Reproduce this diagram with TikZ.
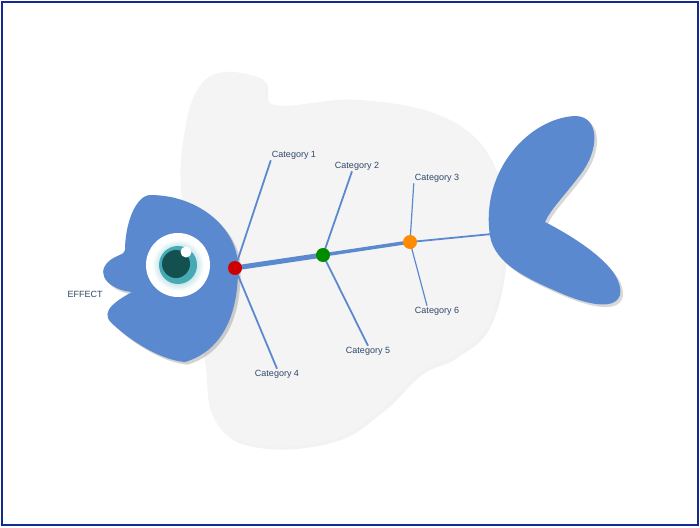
\documentclass[tikz,border=0pt]{standalone}
\usepackage{fontspec}
\setmainfont{Liberation Sans}
\usetikzlibrary{shadows}
\definecolor{fishblue}{RGB}{91,137,207}
\definecolor{bodygray}{RGB}{244,244,244}
\definecolor{labelblue}{RGB}{47,72,105}
\definecolor{framebox}{RGB}{20,40,150}
\definecolor{eyeteal}{RGB}{70,170,180}
\definecolor{eyedark}{RGB}{20,80,80}
\tikzset{
  catlabel/.style={font=\fontsize{9}{10}\selectfont, text=labelblue, inner sep=1pt},
  bone/.style={draw=fishblue, line width=1.8pt},
  joint/.style={circle, inner sep=0pt, minimum size=10pt}
}
\begin{document}
\begin{tikzpicture}[x=1pt, y=-1pt]
    \useasboundingbox (0,0) rectangle (700,527);
    \fill[white] (0,0) rectangle (700,527);
    \draw[framebox, line width=1.5pt] (2,2) rectangle (698,525);

    % body
    \fill[bodygray, drop shadow={opacity=0.1}] plot[smooth cycle, tension=0.7] coordinates {
      (205,80) (260,78) (275,105) (360,100) (450,120) (495,170) (505,240)
      (490,320) (455,355) (420,372) (380,410) (330,440) (255,445) (215,420)
      (205,360) (195,300) (185,230) (182,150)};

    % tail
    \fill[fishblue, drop shadow={opacity=0.3}] (490,236)
      .. controls (480,170) and (530,118) .. (575,116)
      .. controls (600,116) and (600,150) .. (580,175)
      .. controls (565,195) and (550,210) .. (545,222)
      .. controls (580,240) and (625,270) .. (620,295)
      .. controls (615,310) and (590,305) .. (565,295)
      .. controls (530,280) and (495,265) .. (490,236) -- cycle;

    % head
    \fill[fishblue, drop shadow={opacity=0.35}] (150,195)
      .. controls (200,195) and (240,230) .. (238,270)
      .. controls (238,310) and (225,350) .. (185,362)
      .. controls (160,360) and (130,340) .. (115,326)
      .. controls (100,315) and (108,305) .. (132,292)
      .. controls (110,290) and (95,275) .. (108,262)
      .. controls (115,255) and (125,255) .. (125,250)
      .. controls (125,225) and (135,196) .. (150,195) -- cycle;

    % eye
    \fill[white] (178,265) circle (32);
    \shade[inner color=eyeteal, outer color=white] (178,265) circle (26);
    \fill[eyeteal] (178,265) circle (19);
    \fill[eyedark] (176,264) circle (14);
    \fill[white] (186,252) circle (5.5);

    % joints
    \node[joint] (jred) at (235,268) {};
    \node[joint] (jgreen) at (323,255) {};
    \node[joint] (jorange) at (410,242) {};
    \coordinate (spineend) at (492,234);

    % labels
    \node[catlabel] (c1) at (294,155) {Category 1};
    \node[catlabel] (c2) at (357,166) {Category 2};
    \node[catlabel] (c3) at (437,178) {Category 3};
    \node[catlabel] (c4) at (277,374) {Category 4};
    \node[catlabel] (c5) at (368,351) {Category 5};
    \node[catlabel] (c6) at (437,311) {Category 6};
    \node[catlabel] (effect) at (85,294) {EFFECT};

    % spine
    \draw[fishblue, line width=5pt] (jred.center) -- (jgreen.center);
    \draw[fishblue, line width=3.5pt] (jgreen.center) -- (jorange.center);
    \draw[fishblue, line width=1.8pt] (jorange.center) -- (spineend);

    % bones
    \draw[bone] (jred.center) -- (c1.south west);
    \draw[bone] (jred.center) -- (c4.north);
    \draw[bone] (jgreen.center) -- ([xshift=-5pt]c2.south);
    \draw[bone] (jgreen.center) -- (c5.north);
    \draw[bone, line width=1.2pt] (jorange.center) -- (c3.south west);
    \draw[bone, line width=1.2pt] (jorange.center) -- ([xshift=-10pt]c6.north);

    % joints on top
    \fill[red!80!black] (jred) circle (7);
    \fill[green!55!black] (jgreen) circle (7);
    \fill[orange!90!yellow] (jorange) circle (7);
\end{tikzpicture}
\end{document}
